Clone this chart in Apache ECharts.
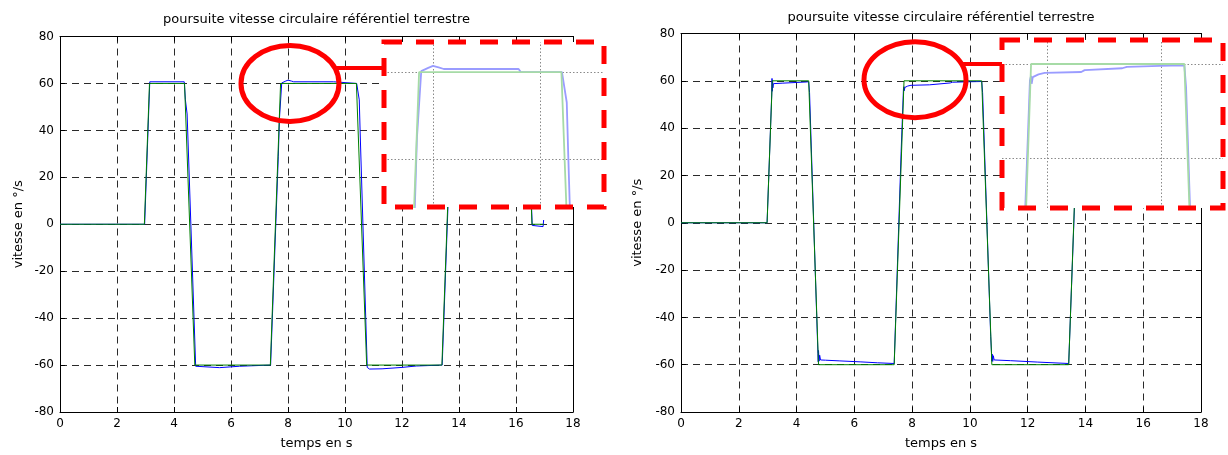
<!DOCTYPE html>
<html>
<head>
<meta charset="utf-8">
<script src="https://cdn.jsdelivr.net/npm/echarts@6/dist/echarts.min.js"></script>
<style>
  html, body { margin: 0; padding: 0; background: #fff; }
  #chart { width: 1228px; height: 455px; }
</style>
</head>
<body>
<div id="chart"></div>
<script>
// ---- data ----
const xTicks = [0, 2, 4, 6, 8, 10, 12, 14, 16, 18];
const yTicks = [-80, -60, -40, -20, 0, 20, 40, 60, 80];

// left plot : consigne (vert) / mesure (bleu)
const tRefL = [0, 2.96, 3.14, 4.37, 4.73, 7.38, 7.74, 10.40, 10.76, 13.40, 13.76, 16.38, 16.56, 16.97];
const vRefL = [0, 0, 60, 60, -60, -60, 60, 60, -60, -60, 60, 60, 0, 0];

const tMesL = [0, 2.97, 3.15, 4.36, 4.40, 4.46, 4.76, 4.82, 5.60, 5.63, 6.30, 6.33, 7.39,
               7.66, 7.70, 7.78, 7.90, 8.00, 8.12, 8.20, 9.60, 9.64, 10.41, 10.50, 10.53, 10.78,
               10.86, 11.30, 11.34, 12.00, 12.04, 12.50, 12.54, 13.41, 13.77, 16.38, 16.57,
               16.60, 16.95, 16.97, 16.99];
const vMesL = [0, 0, 60.7, 60.7, 53, 47, -60.5, -61.1, -61.1, -60.5, -60.5, -60, -60,
               29, 45, 60.2, 60.9, 61.4, 61.0, 60.7, 60.7, 60, 60, 53, 40, -61,
               -61.7, -61.6, -61, -61, -60.4, -60.4, -60, -60, 60, 60, -0.5,
               -1.0, -1.0, 1.8, 1.8];

// right plot
const tRefR = [0, 2.98, 3.16, 4.42, 4.76, 7.38, 7.72, 10.41, 10.76, 13.42, 13.77, 17.0];
const vRefR = [0, 0, 60, 60, -60, -60, 60, 60, -60, -60, 60, 60];

const tMesR = [0, 2.98, 3.14, 3.15, 3.16, 3.17, 3.18, 3.20, 3.50, 4.00, 4.33, 4.42,
               4.45, 4.72, 4.74, 4.75, 4.76, 4.78, 4.80, 4.83, 5.00, 5.50, 6.20, 6.80, 7.38,
               7.62, 7.70, 7.72, 7.73, 7.75, 7.78, 7.85, 7.96, 8.60, 8.66, 9.32, 9.40, 9.98, 10.41,
               10.44, 10.72, 10.75, 10.76, 10.77, 10.79, 10.81, 10.84, 11.40, 12.35, 12.40, 13.42,
               13.78, 17.0];
const vMesR = [0, 0, 54, 61, 55.6, 60.2, 57, 58.8, 59.0, 59.3, 59.5, 59.6,
               55, -48, -55.2, -58.8, -54, -58.5, -56, -58, -58.1, -58.4, -58.8, -59.2, -59.5,
               30, 56.5, 57.5, 55.8, 57.2, 56.8, 57.8, 58.1, 58.3, 58.7, 59.1, 59.4, 59.6, 59.7,
               55, -48, -55.2, -58.5, -55.5, -58.6, -56.2, -58, -58.3, -58.9, -59.2, -59.5,
               60, 60];

const pairs = (t, v) => t.map((x, i) => [x, v[i]]);

// ---- layout ----
const font = 'DejaVu Sans';
const plots = [
  {grid: {left: 60, top: 36.5, width: 513, height: 379.5}, nameGapY: 35, titleTop: 13,
   ref: pairs(tRefL, vRefL), mes: pairs(tMesL, vMesL),
   inset: {left: 384, top: 42, width: 220, height: 165, xMin: 7.084, xMax: 11.196, yMin: 29, yMax: 66.9},
   ring: [8.07, 60], ringR: [49, 38], linkY: 68},
  {grid: {left: 681, top: 33.5, width: 520, height: 382.5}, nameGapY: 37, titleTop: 11,
   ref: pairs(tRefR, vRefR), mes: pairs(tMesR, vMesR),
   inset: {left: 1002, top: 40, width: 221, height: 168, xMin: 7.21, xMax: 11.088, yMin: 29.4, yMax: 65.1},
   ring: [8.1, 60.5], ringR: [51, 38], linkY: 64}
];

const grids = [], xAxes = [], yAxes = [], series = [], titles = [];
const dashGrid = {show: true, lineStyle: {color: '#2a2a2a', width: 1, type: [7, 5]}};
const tickIn = {show: true, inside: true, length: 5, lineStyle: {color: '#000'}};
const lineBlack = {show: true, onZero: false, lineStyle: {color: '#000', width: 1}};

plots.forEach((p, k) => {
  const gMain = grids.length;
  grids.push(Object.assign({containLabel: false}, p.grid));
  titles.push({
    text: 'poursuite vitesse circulaire référentiel terrestre',
    left: p.grid.left + p.grid.width / 2, top: p.titleTop, textAlign: 'center', padding: 0,
    textStyle: {fontFamily: font, fontSize: 13, fontWeight: 'normal', color: '#000'}
  });
  const xi = xAxes.length, yi = yAxes.length;
  xAxes.push({
    gridIndex: gMain, type: 'value', min: 0, max: 18, interval: 2,
    axisLine: lineBlack, axisTick: tickIn, splitLine: dashGrid,
    axisLabel: {fontFamily: font, fontSize: 12, color: '#000', margin: 6},
    name: 'temps en s', nameLocation: 'middle', nameGap: 25,
    nameTextStyle: {fontFamily: font, fontSize: 13, color: '#000'}
  });
  xAxes.push({
    gridIndex: gMain, type: 'value', position: 'top', min: 0, max: 18, interval: 2,
    axisLine: lineBlack, axisTick: tickIn, splitLine: {show: false}, axisLabel: {show: false}
  });
  yAxes.push({
    gridIndex: gMain, type: 'value', min: -80, max: 80, interval: 20,
    axisLine: lineBlack, axisTick: tickIn, splitLine: dashGrid,
    axisLabel: {fontFamily: font, fontSize: 12, color: '#000', margin: 6},
    name: 'vitesse en °/s', nameLocation: 'middle', nameGap: p.nameGapY, nameRotate: 90,
    nameTextStyle: {fontFamily: font, fontSize: 13, color: '#000'}
  });
  yAxes.push({
    gridIndex: gMain, type: 'value', position: 'right', min: -80, max: 80, interval: 20,
    axisLine: lineBlack, axisTick: tickIn, splitLine: {show: false}, axisLabel: {show: false}
  });
  series.push({type: 'line', xAxisIndex: xi, yAxisIndex: yi, data: p.mes, showSymbol: false, z: 2,
               lineStyle: {color: '#0000ff', width: 1}});
  series.push({type: 'line', xAxisIndex: xi, yAxisIndex: yi, data: p.ref, showSymbol: false, z: 2,
               lineStyle: {color: '#008000', width: 1}});

  // zoomed inset
  const ins = p.inset;
  const gIn = grids.length;
  grids.push({left: ins.left, top: ins.top, width: ins.width, height: ins.height});
  const xj = xAxes.length, yj = yAxes.length;
  xAxes.push({gridIndex: gIn, type: 'value', min: ins.xMin, max: ins.xMax, show: false});
  yAxes.push({gridIndex: gIn, type: 'value', min: ins.yMin, max: ins.yMax, show: false});
  series.push({type: 'line', xAxisIndex: xj, yAxisIndex: yj, data: p.mes, showSymbol: false, z: 6,
               lineStyle: {color: '#9a9cff', width: 1.8},
               markLine: {silent: true, z: 5, symbol: 'none', label: {show: false},
                          lineStyle: {color: '#8a8a8a', width: 1, type: [1.5, 2]},
                          data: [{xAxis: 8}, {xAxis: 10}, {yAxis: 40}, {yAxis: 60}]}});
  series.push({type: 'line', xAxisIndex: xj, yAxisIndex: yj, data: p.ref, showSymbol: false, z: 7,
               lineStyle: {color: '#a6dba6', width: 1.8}});
});

const chart = echarts.init(document.getElementById('chart'));
chart.setOption({
  animation: false,
  backgroundColor: '#fff',
  title: titles,
  grid: grids,
  xAxis: xAxes,
  yAxis: yAxes,
  series: series
});

// annotations: white inset background, red dashed frame, circle and link
const elements = [];
plots.forEach((p, k) => {
  const ins = p.inset;
  elements.push({type: 'rect', z: 4, silent: true,
    shape: {x: ins.left, y: ins.top, width: ins.width, height: ins.height},
    style: {fill: '#fff', stroke: null}});
  elements.push({type: 'rect', z: 9, silent: true,
    shape: {x: ins.left, y: ins.top, width: ins.width, height: ins.height},
    style: {fill: null, stroke: '#ff0000', lineWidth: 5, lineDash: [18, 14]}});
  const c = chart.convertToPixel({xAxisIndex: k * 3, yAxisIndex: k * 3}, p.ring);
  elements.push({type: 'ellipse', z: 9, silent: true,
    shape: {cx: c[0], cy: c[1], rx: p.ringR[0], ry: p.ringR[1]},
    style: {fill: null, stroke: '#ff0000', lineWidth: 5}});
  const dy = p.linkY - c[1];
  const x0 = c[0] + p.ringR[0] * Math.sqrt(1 - (dy / p.ringR[1]) ** 2);
  elements.push({type: 'line', z: 9, silent: true,
    shape: {x1: x0, y1: p.linkY, x2: ins.left, y2: p.linkY},
    style: {stroke: '#ff0000', lineWidth: 4}});
});
chart.setOption({graphic: {elements: elements}});
</script>
</body>
</html>
